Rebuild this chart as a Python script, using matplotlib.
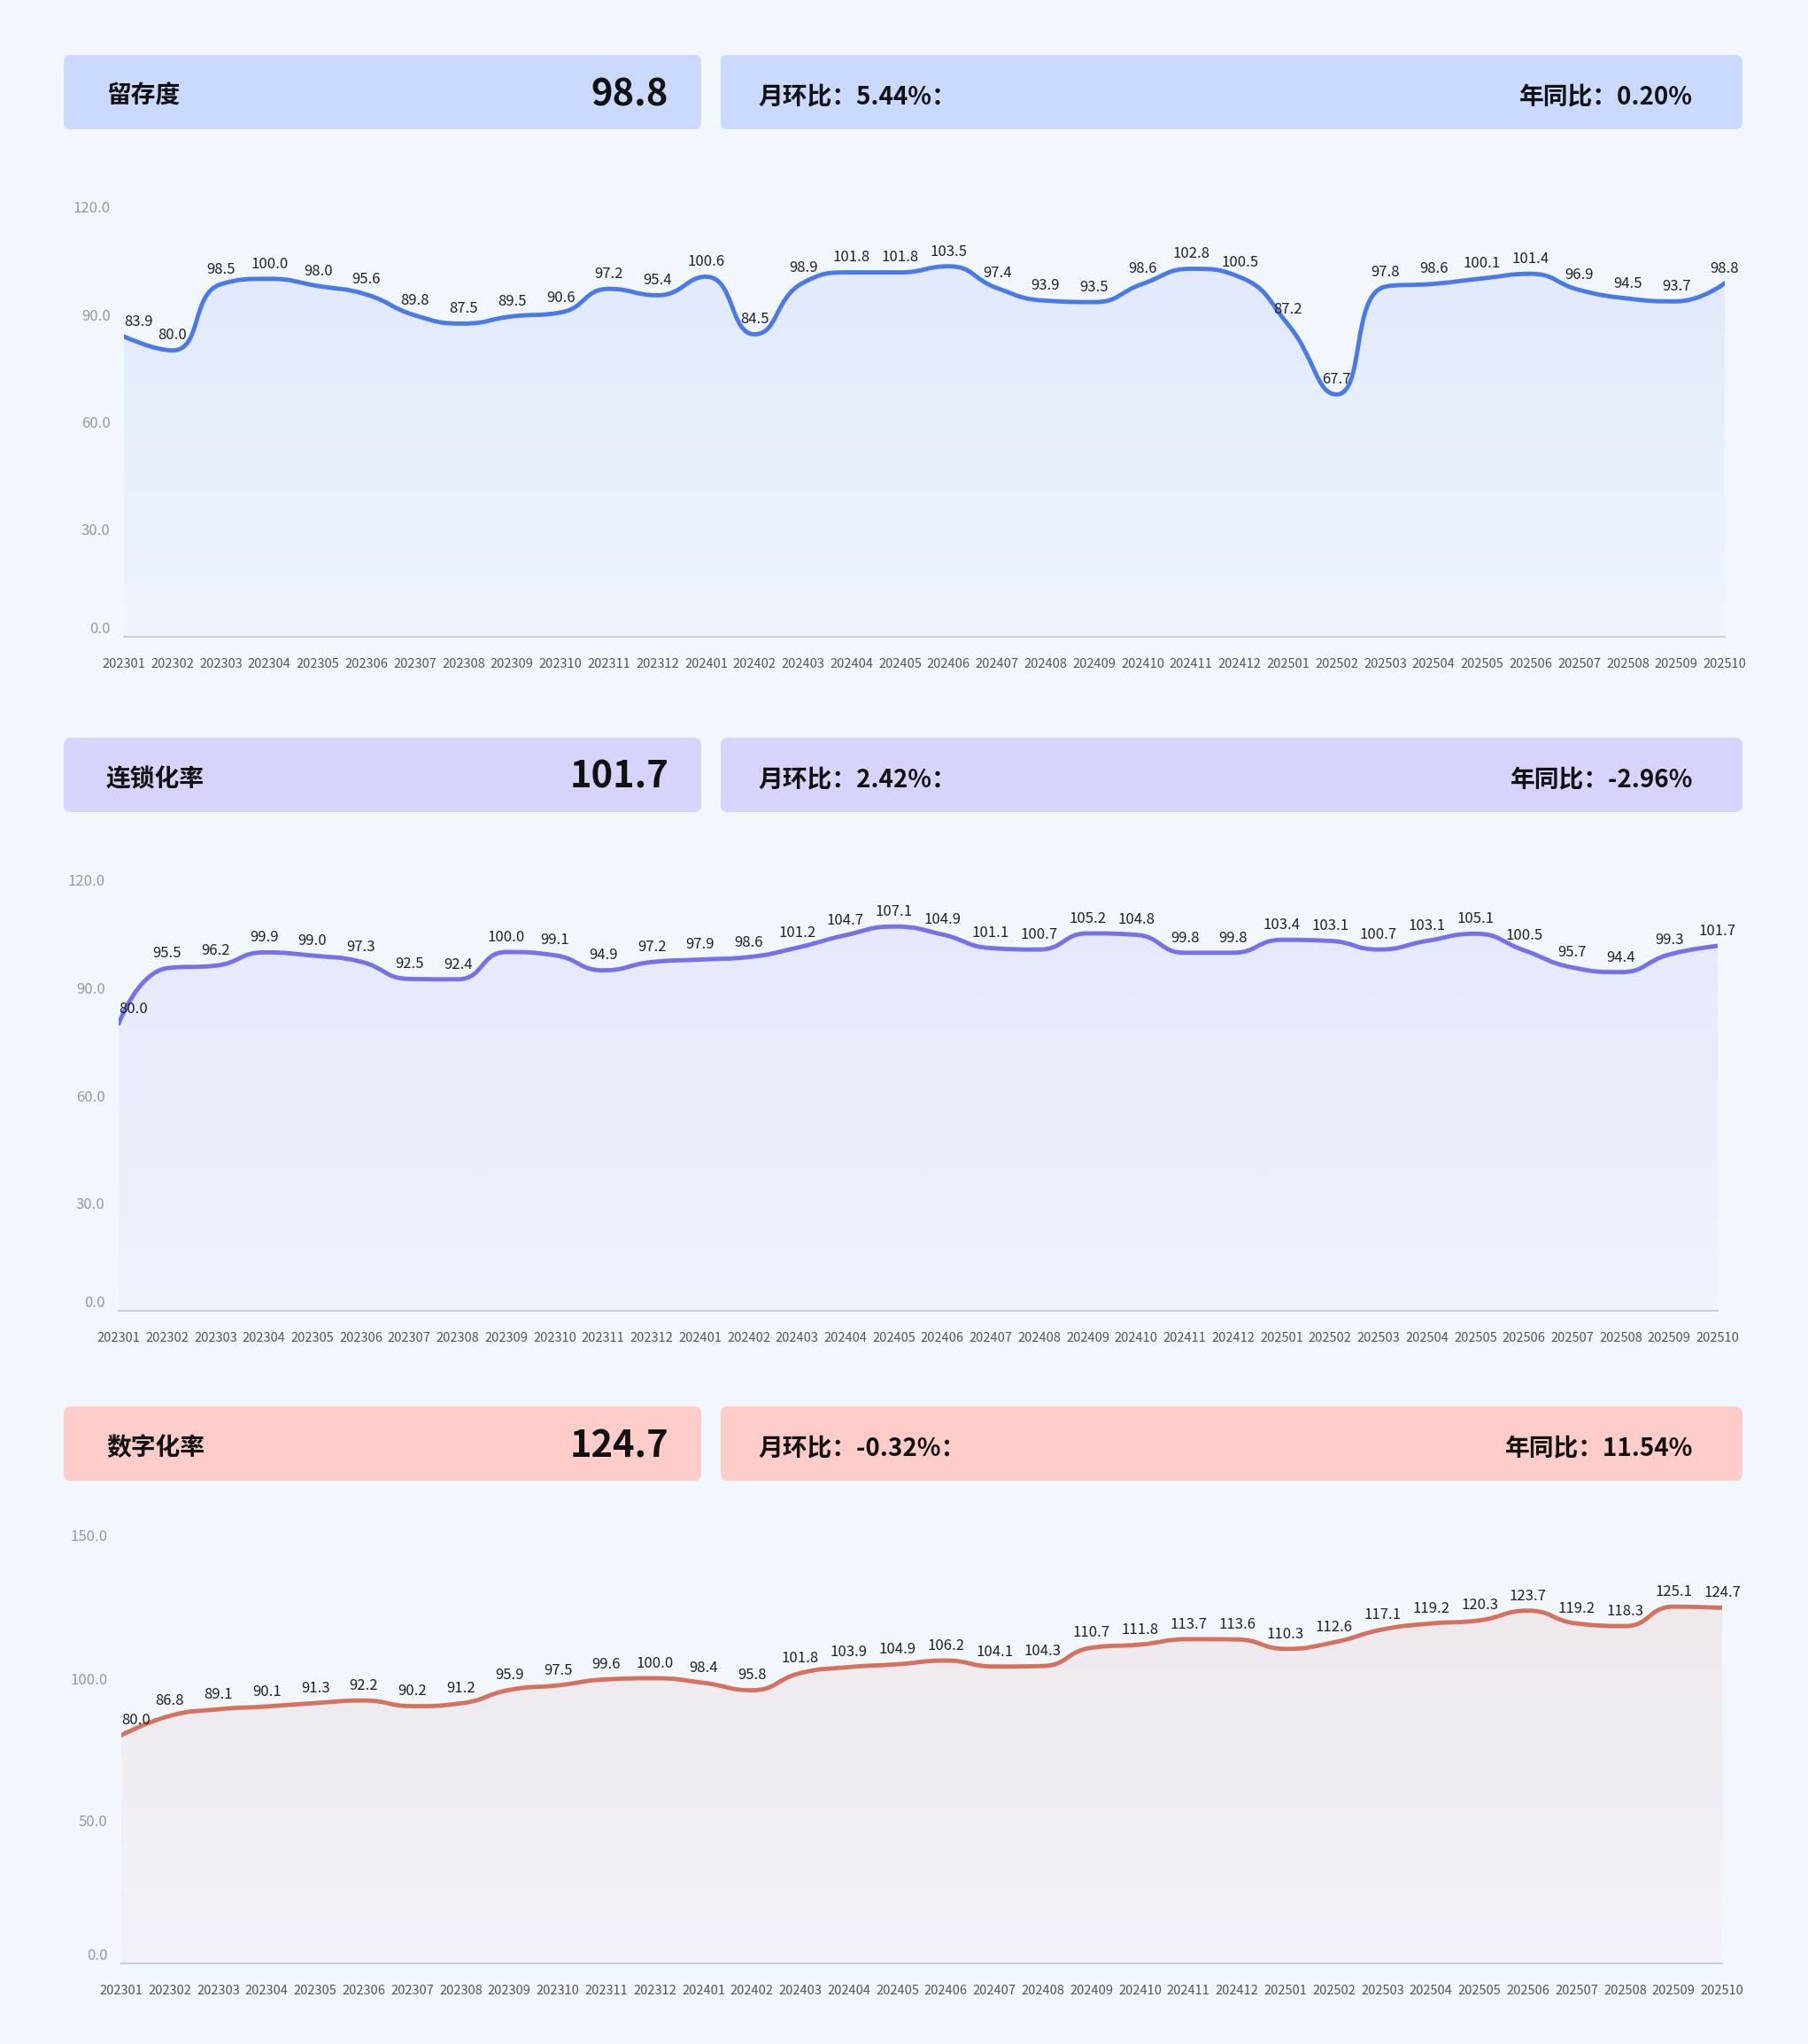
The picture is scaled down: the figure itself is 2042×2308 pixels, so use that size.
import numpy as np
import matplotlib
matplotlib.use("Agg")
import matplotlib.pyplot as plt
from matplotlib.path import Path
from matplotlib.patches import PathPatch, FancyBboxPatch
from matplotlib.colors import to_rgb

plt.rcParams['font.family'] = ['Noto Sans CJK SC', 'DejaVu Sans']

# x axis months
months = ['202301', '202302', '202303', '202304', '202305', '202306',
          '202307', '202308', '202309', '202310', '202311', '202312',
          '202401', '202402', '202403', '202404', '202405', '202406',
          '202407', '202408', '202409', '202410', '202411', '202412',
          '202501', '202502', '202503', '202504', '202505', '202506',
          '202507', '202508', '202509', '202510']

retention = [83.9, 80.0, 98.5, 100.0, 98.0, 95.6, 89.8, 87.5, 89.5, 90.6, 97.2, 95.4,
             100.6, 84.5, 98.9, 101.8, 101.8, 103.5, 97.4, 93.9, 93.5, 98.6, 102.8, 100.5,
             87.2, 67.7, 97.8, 98.6, 100.1, 101.4, 96.9, 94.5, 93.7, 98.8]
chain_rate = [80.0, 95.5, 96.2, 99.9, 99.0, 97.3, 92.5, 92.4, 100.0, 99.1, 94.9, 97.2,
              97.9, 98.6, 101.2, 104.7, 107.1, 104.9, 101.1, 100.7, 105.2, 104.8, 99.8, 99.8,
              103.4, 103.1, 100.7, 103.1, 105.1, 100.5, 95.7, 94.4, 99.3, 101.7]
digital_rate = [80.0, 86.8, 89.1, 90.1, 91.3, 92.2, 90.2, 91.2, 95.9, 97.5, 99.6, 100.0,
                98.4, 95.8, 101.8, 103.9, 104.9, 106.2, 104.1, 104.3, 110.7, 111.8, 113.7, 113.6,
                110.3, 112.6, 117.1, 119.2, 120.3, 123.7, 119.2, 118.3, 125.1, 124.7]

titles = ['留存度', '连锁化率', '数字化率']
latest = ['98.8', '101.7', '124.7']
mom = ['5.44%', '2.42%', '-0.32%']
yoy = ['0.20%', '-2.96%', '11.54%']
yticks = [[0, 30, 60, 90, 120], [0, 30, 60, 90, 120], [0, 50, 100, 150]]

W, H = 2042, 2308
BG = '#F2F6FD'
line_colors = ['#4A7AE9', '#7571E8', '#D5725F']
box_colors = ['#C9DAFE', '#D7D4FC', '#FECDCA']
# (left, top, right, bottom) of each plot area in pixels, and header top
plot_px = [(140, 234, 1948, 719), (134, 994, 1940, 1480), (137, 1734, 1945, 2217)]
header_top = [62, 833, 1588]


def echarts_smooth(pts, smooth=0.5):
    # cubic bezier control points like echarts smooth line (pixel space)
    verts = [tuple(pts[0])]
    codes = [Path.MOVETO]
    n = len(pts)
    cp0 = pts[0].copy()
    for i in range(1, n):
        x, y = pts[i]
        px, py = pts[i - 1]
        if i == n - 1:
            cp1 = np.array([x, y])
            nxt = None
        else:
            nx, ny = pts[i + 1]
            vx, vy = nx - px, ny - py
            lp = np.hypot(x - px, y - py)
            ln = np.hypot(nx - x, ny - y)
            r = ln / (ln + lp)
            ncx = x + vx * smooth * r
            ncy = y + vy * smooth * r
            ncx = min(ncx, max(nx, x)); ncy = min(ncy, max(ny, y))
            ncx = max(ncx, min(nx, x)); ncy = max(ncy, min(ny, y))
            vx, vy = ncx - x, ncy - y
            c1x = x - vx * lp / ln; c1y = y - vy * lp / ln
            c1x = min(c1x, max(px, x)); c1y = min(c1y, max(py, y))
            c1x = max(c1x, min(px, x)); c1y = max(c1y, min(py, y))
            vx, vy = x - c1x, y - c1y
            ncx = x + vx * ln / lp; ncy = y + vy * ln / lp
            cp1 = np.array([c1x, c1y])
            nxt = np.array([ncx, ncy])
        verts += [tuple(cp0), tuple(cp1), (x, y)]
        codes += [Path.CURVE4] * 3
        cp0 = nxt
    return verts, codes


fig = plt.figure(figsize=(W / 100, H / 100), dpi=100, facecolor=BG)

bg = fig.add_axes([0, 0, 1, 1], zorder=0)
bg.set_xlim(0, W)
bg.set_ylim(H, 0)
bg.axis('off')

series = [retention, chain_rate, digital_rate]

for k in range(3):
    # header boxes
    top = header_top[k]
    bg.add_patch(FancyBboxPatch((72, top), 720, 84, boxstyle='round,pad=0,rounding_size=8',
                                fc=box_colors[k], ec='none'))
    bg.add_patch(FancyBboxPatch((814, top), 1154, 84, boxstyle='round,pad=0,rounding_size=8',
                                fc=box_colors[k], ec='none'))
    cy = top + 47
    bg.text(120, cy, titles[k], fontsize=20, fontweight='bold', color='#111111', va='center', ha='left')
    bg.text(755, top + 45, latest[k], fontsize=30, fontweight='bold', color='#111111',
            va='center', ha='right')
    bg.text(856, cy + 1, f'月环比：{mom[k]}：', fontsize=20, fontweight='bold', color='#111111',
            va='center', ha='left')
    bg.text(1912, cy + 1, f'年同比：{yoy[k]}', fontsize=20, fontweight='bold', color='#111111',
            va='center', ha='right')

    # chart
    l, t, r, b = plot_px[k]
    ax = fig.add_axes([l / W, 1 - b / H, (r - l) / W, (b - t) / H], zorder=1)
    ax.set_facecolor('none')
    vals = series[k]
    xs = np.arange(len(months))
    ax.set_xlim(0, len(months) - 1)
    ax.set_ylim(0, yticks[k][-1])

    disp = ax.transData.transform(np.column_stack([xs, vals]))
    verts, codes = echarts_smooth(disp)
    verts = ax.transData.inverted().transform(np.array(verts))
    line_path = Path(verts, codes)

    area_verts = np.vstack([verts, [[xs[-1], 0], [0, 0], [0, 0]]])
    area_codes = codes + [Path.LINETO, Path.LINETO, Path.CLOSEPOLY]
    area = PathPatch(Path(area_verts, area_codes), fc='none', ec='none')
    ax.add_patch(area)

    rgb = to_rgb(line_colors[k])
    grad = np.zeros((256, 1, 4))
    grad[..., :3] = rgb
    grad[..., 3] = np.linspace(0.10, 0.02, 256).reshape(-1, 1)
    im = ax.imshow(grad, extent=[0, xs[-1], 0, max(vals)], aspect='auto', origin='upper', zorder=1)
    im.set_clip_path(area)

    ax.add_patch(PathPatch(line_path, fc='none', ec=line_colors[k], lw=3.5,
                           capstyle='round', joinstyle='round', zorder=3))

    for i, v in enumerate(vals):
        ax.annotate(f'{v:.1f}', (i, v), xytext=(0, 12), textcoords='offset points',
                    ha='left' if i == 0 else 'center', va='center', fontsize=12,
                    color='#222222', zorder=4, annotation_clip=False)

    ax.set_xlim(0, len(months) - 1)
    ax.set_ylim(0, yticks[k][-1])
    ax.set_xticks(xs)
    ax.set_xticklabels(months)
    ax.set_yticks(yticks[k])
    ax.set_yticklabels([f'{y:.1f}' for y in yticks[k]])
    ax.tick_params(axis='x', length=0, pad=17, labelsize=10.5, labelcolor='#555555')
    ax.tick_params(axis='y', length=0, pad=11, labelsize=12, labelcolor='#999999')
    ax.get_yticklabels()[0].set_va('bottom')
    for s in ['top', 'right', 'left']:
        ax.spines[s].set_visible(False)
    ax.spines['bottom'].set_color('#C9CCD4')
    ax.spines['bottom'].set_linewidth(1.4)

fig.savefig('out.png', dpi=100, facecolor=BG)
